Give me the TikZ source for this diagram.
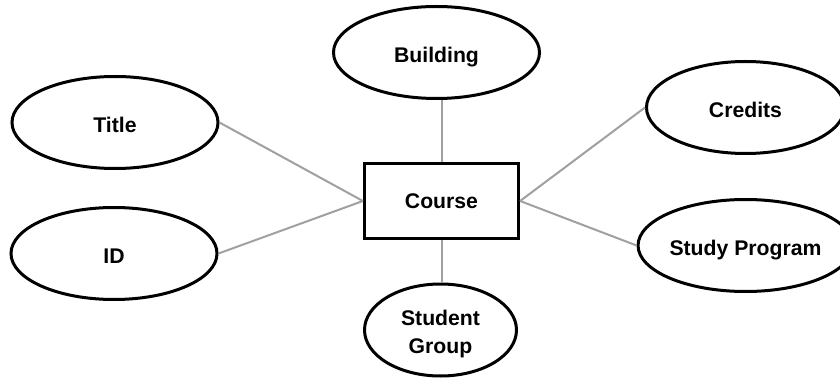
\documentclass[tikz,border=0pt]{standalone}
\usepackage{fontspec}
\setmainfont{Liberation Sans}
\usetikzlibrary{shapes.geometric}
\definecolor{linkgray}{HTML}{A0A0A0}
\begin{document}
\begin{tikzpicture}[x=1pt,y=-1pt,
  labelfont/.style={font=\bfseries\fontsize{21.2}{28}\selectfont},
  attr/.style={ellipse, draw=black, line width=3pt, fill=white, inner sep=0pt,
    minimum width=206pt, minimum height=92pt, labelfont,
    text height=21pt, text depth=0pt},
  entity/.style={rectangle, draw=black, line width=3.2pt, fill=white, inner sep=0pt,
    minimum width=154pt, minimum height=75pt, labelfont,
    text height=16pt, text depth=0pt},
  link/.style={draw=linkgray, line width=2pt}]
\useasboundingbox (0,0) rectangle (840,379);

% entity
\node[entity] (course) at (441.5,201) {Course};

% attributes
\node[attr] (building) at (436.5,52.5) {Building};
\node[attr] (title) at (115,122.5) {Title};
\node[attr] (id) at (114,253.5) {ID};
\node[attr, minimum width=198pt] (credits) at (745.5,107.5) {Credits};
\node[attr, minimum width=198pt] (program) at (745.5,245.5) {Study Program};
\node[attr, minimum width=152pt, align=center, text height=46pt, text depth=0pt]
  (group) at (440.5,330) {Student\\Group};

% relationships
\draw[link] (course.north) -- (course.north |- building.south);
\draw[link] (course.south) -- (course.south |- group.north);
\draw[link] (course.west) -- (title.east);
\draw[link] (course.west) -- (id.east);
\draw[link] (course.east) -- (credits.west);
\draw[link] (course.east) -- (program.west);
\end{tikzpicture}
\end{document}
